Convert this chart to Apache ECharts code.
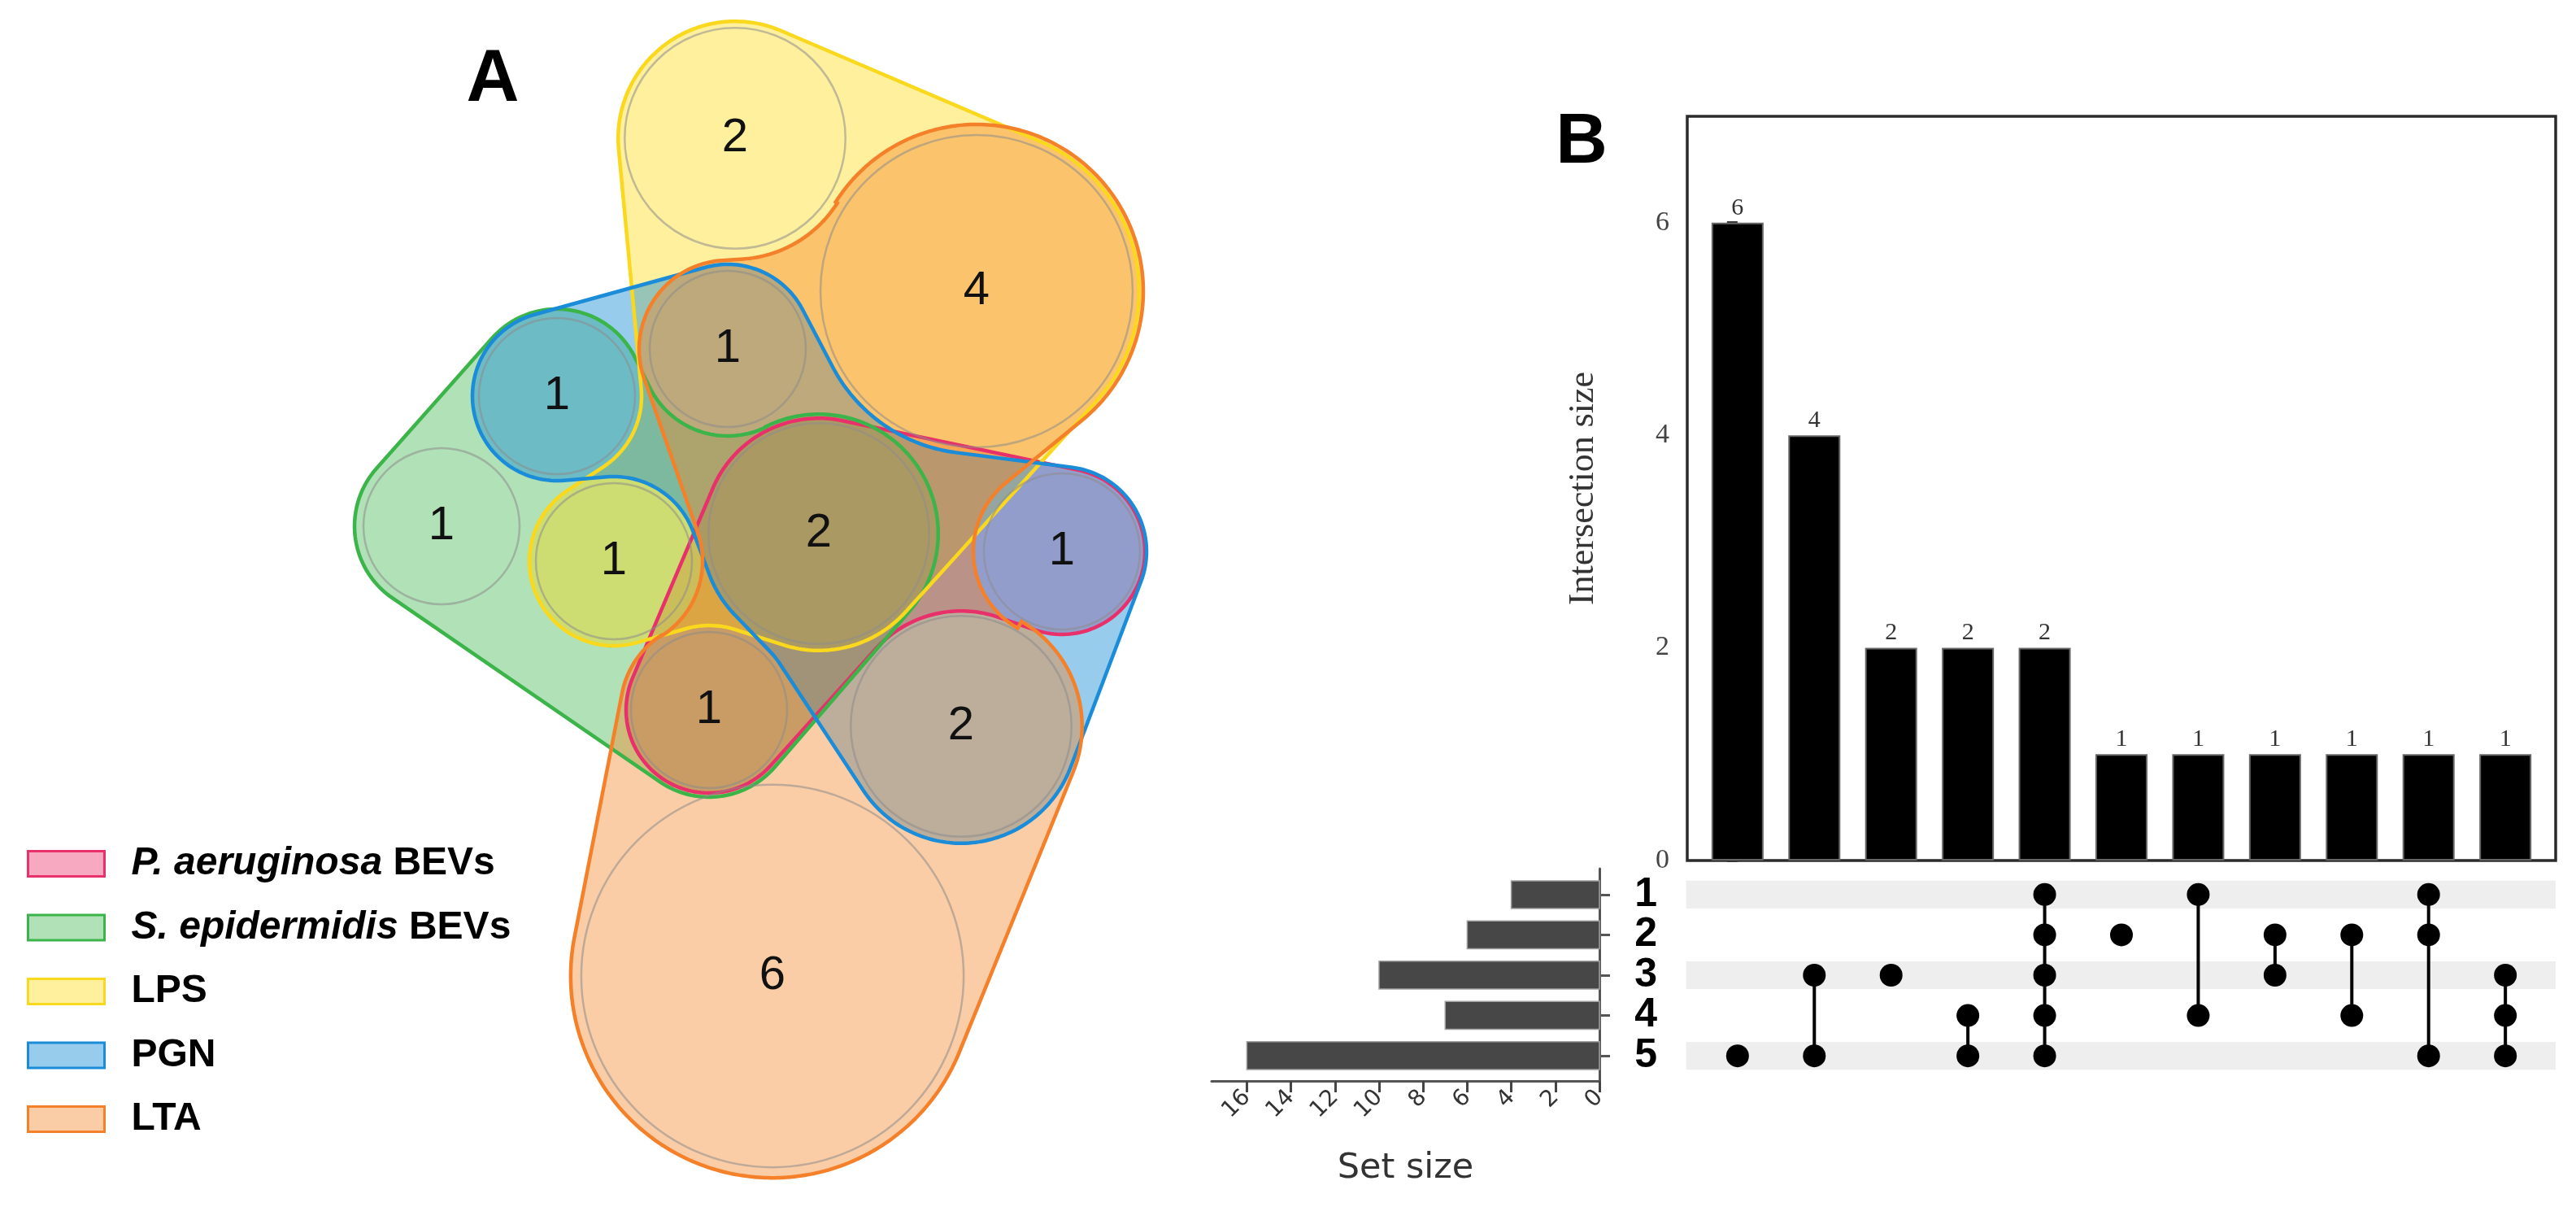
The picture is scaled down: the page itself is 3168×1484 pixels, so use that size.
<!DOCTYPE html>
<html>
<head>
<meta charset="utf-8">
<script src="https://cdn.jsdelivr.net/npm/echarts@6/dist/echarts.min.js"></script>
<style>
  html, body { margin: 0; padding: 0; background: #fff; }
  #chart { width: 3168px; height: 1484px; }
</style>
</head>
<body>
<div id="chart"></div>
<script>
// panel A - euler diagram
const setNames = ["P. aeruginosa BEVs", "S. epidermidis BEVs", "LPS", "PGN", "LTA"];
const regionCounts = [2, 4, 1, 1, 1, 1, 2, 1, 1, 2, 6];
const regionX = [904, 1201, 895, 685, 543, 755, 1007, 1306, 872, 1182, 950];
const regionY = [170, 358, 429, 487, 647, 690, 656, 678, 873, 893, 1200];
// regions each set outline runs round, clockwise; -1 = region left outside (outline bends in)
const setOutline = [
  [[6, 1], [7, 1], [9, -1], [8, 1]],
  [[4, 1], [3, 1], [2, -1], [6, 1], [8, 1]],
  [[0, 1], [1, 1], [6, 1], [8, -1], [5, 1], [3, -1]],
  [[3, 1], [2, 1], [1, -1], [7, 1], [9, 1], [8, -1], [6, 1], [5, -1]],
  [[10, 1], [8, 1], [5, -1], [2, 1], [0, -1], [1, 1], [7, -1], [9, 1]]
];

// panel B - upset plot
const setRows = ["1", "2", "3", "4", "5"];
const setSizes = [4, 6, 10, 7, 16];
const interSizes = [6, 4, 2, 2, 2, 1, 1, 1, 1, 1, 1];
const interMembers = [[5], [3, 5], [3], [4, 5], [1, 2, 3, 4, 5], [2], [1, 4], [2, 3], [2, 4], [1, 2, 5], [3, 4, 5]];

const strokeCol = ["#E8306A", "#3BB44A", "#FAD81E", "#1A8CD8", "#F5802A"];
const fillCol = [
  "rgba(232,40,100,0.40)",
  "rgba(61,181,74,0.40)",
  "rgba(255,215,0,0.38)",
  "rgba(27,143,216,0.45)",
  "rgba(245,130,32,0.40)"
];
const outlinePad = [6, 11, 8, 8, 13];
const unitR = 96; // radius of a region holding one item

function regionR(i) {
  return unitR * Math.sqrt(regionCounts[i]);
}

// rope round the circles of one set
function outlinePoints(k, api) {
  const pad = outlinePad[k];
  const items = setOutline[k].map(function (it) {
    const c = api.coord([regionX[it[0]], regionY[it[0]]]);
    const r = api.size([regionR(it[0]), 0])[0] + pad;
    return { x: c[0], y: c[1], r: r, rho: it[1] * r };
  });
  const n = items.length;
  const normals = [];
  for (let i = 0; i < n; i++) {
    const a = items[i], b = items[(i + 1) % n];
    const dx = b.x - a.x, dy = b.y - a.y, d = Math.hypot(dx, dy);
    const ux = dx / d, uy = dy / d;
    let kk = (a.rho - b.rho) / d;
    kk = Math.max(-1, Math.min(1, kk));
    const m = Math.sqrt(1 - kk * kk);
    normals.push([kk * ux + m * uy, kk * uy - m * ux]);
  }
  const pts = [];
  for (let i = 0; i < n; i++) {
    const c = items[i];
    const sg = c.rho > 0 ? 1 : -1;
    const nin = normals[(i - 1 + n) % n], nout = normals[i];
    const a0 = Math.atan2(sg * nin[1], sg * nin[0]);
    const a1 = Math.atan2(sg * nout[1], sg * nout[0]);
    let sweep = a1 - a0;
    if (sg > 0) {
      while (sweep < 0) sweep += 2 * Math.PI;
      if (sweep > 1.9 * Math.PI) sweep -= 2 * Math.PI;
    } else {
      while (sweep > 0) sweep -= 2 * Math.PI;
      if (sweep < -1.9 * Math.PI) sweep += 2 * Math.PI;
    }
    const steps = Math.max(2, Math.ceil(Math.abs(sweep) * c.r / 4));
    for (let j = 0; j <= steps; j++) {
      const t = a0 + sweep * j / steps;
      pts.push([c.x + c.r * Math.cos(t), c.y + c.r * Math.sin(t)]);
    }
  }
  return pts;
}

const serif = '"Liberation Serif", "Times New Roman", serif';
const sans = '"Liberation Sans", Arial, sans-serif';

const series = [];

// set fills
setNames.forEach(function (name, k) {
  series.push({
    type: "custom",
    name: name,
    xAxisIndex: 3,
    yAxisIndex: 3,
    silent: true,
    z: 1,
    itemStyle: { color: fillCol[k], borderColor: strokeCol[k] },
    data: [[regionX[setOutline[k][0][0]], regionY[setOutline[k][0][0]]]],
    renderItem: function (params, api) {
      return {
        type: "polygon",
        shape: { points: outlinePoints(k, api) },
        style: { fill: fillCol[k], stroke: null }
      };
    }
  });
});

// set outlines
series.push({
  type: "custom",
  xAxisIndex: 3,
  yAxisIndex: 3,
  silent: true,
  z: 2,
  data: setNames.map(function (n, k) { return [regionX[k], regionY[k]]; }),
  renderItem: function (params, api) {
    const k = params.dataIndex;
    return {
      type: "polygon",
      shape: { points: outlinePoints(k, api) },
      style: { fill: null, stroke: strokeCol[k], lineWidth: 4.5 }
    };
  }
});

// region circles + counts
series.push({
  type: "custom",
  xAxisIndex: 3,
  yAxisIndex: 3,
  silent: true,
  z: 3,
  data: regionX.map(function (x, i) { return [x, regionY[i], regionCounts[i]]; }),
  renderItem: function (params, api) {
    const c = api.coord([api.value(0), api.value(1)]);
    const r = api.size([unitR * Math.sqrt(api.value(2)), 0])[0];
    return {
      type: "group",
      children: [
        { type: "circle", shape: { cx: c[0], cy: c[1], r: r },
          style: { fill: null, stroke: "rgba(140,140,140,0.55)", lineWidth: 2.5 } },
        { type: "text", style: { x: c[0], y: c[1], text: String(api.value(2)),
          align: "center", verticalAlign: "middle", fontSize: 58, fontFamily: sans, fill: "#111" } }
      ]
    };
  }
});

// intersection bars
series.push({
  type: "bar",
  xAxisIndex: 0,
  yAxisIndex: 0,
  barWidth: 64,
  data: interSizes.map(function (v, i) { return [i, v]; }),
  itemStyle: { color: "#000", borderColor: "#666", borderWidth: 2 },
  label: {
    show: true, position: "top", distance: 3,
    fontFamily: serif, fontSize: 30, color: "#333",
    formatter: function (p) { return String(p.value[1]); }
  }
});

// matrix stripes
series.push({
  type: "custom",
  xAxisIndex: 1,
  yAxisIndex: 1,
  silent: true,
  z: 1,
  data: setRows.map(function (s, i) { return [0, i]; }).filter(function (d) { return d[1] % 2 === 0; }),
  renderItem: function (params, api) {
    const row = api.value(1);
    const p0 = api.coord([-0.67, row]);
    const p1 = api.coord([10.655, row]);
    const h = api.size([0, 1])[1] * 0.69;
    return { type: "rect", shape: { x: p0[0], y: p0[1] - h / 2, width: p1[0] - p0[0], height: h },
      style: { fill: "#EEEEEE" } };
  }
});

// matrix connectors
series.push({
  type: "custom",
  xAxisIndex: 1,
  yAxisIndex: 1,
  silent: true,
  z: 2,
  data: interMembers.map(function (m, i) {
    return [i, Math.min.apply(null, m) - 1, Math.max.apply(null, m) - 1];
  }),
  encode: { x: 0, y: [1, 2] },
  renderItem: function (params, api) {
    if (api.value(1) === api.value(2)) return null;
    const a = api.coord([api.value(0), api.value(1)]);
    const b = api.coord([api.value(0), api.value(2)]);
    return { type: "line", shape: { x1: a[0], y1: a[1], x2: b[0], y2: b[1] },
      style: { stroke: "#000", lineWidth: 4 } };
  }
});

// matrix dots
series.push({
  type: "scatter",
  xAxisIndex: 1,
  yAxisIndex: 1,
  z: 3,
  symbolSize: 28,
  itemStyle: { color: "#000", opacity: 1 },
  data: interMembers.reduce(function (acc, m, i) {
    return acc.concat(m.map(function (s) { return [i, s - 1]; }));
  }, [])
});

// set size bars
series.push({
  type: "custom",
  xAxisIndex: 2,
  yAxisIndex: 2,
  data: setSizes.map(function (v, i) { return [v, i + 1]; }),
  renderItem: function (params, api) {
    const p0 = api.coord([0, api.value(1)]);
    const p1 = api.coord([api.value(0), api.value(1)]);
    const h = api.size([0, 0.69])[1];
    return { type: "rect", shape: { x: p1[0], y: p0[1] - h / 2, width: p0[0] - p1[0], height: h },
      style: { fill: "#474747", stroke: "#a0a0a0", lineWidth: 1.5 } };
  }
});

const option = {
  animation: false,
  backgroundColor: "#fff",
  grid: [
    { left: 2075, top: 143, width: 1068, height: 915, show: true, borderColor: "#2b2b2b", borderWidth: 3.5, backgroundColor: "transparent" },
    { left: 2075, top: 1075, width: 1068, height: 248 },
    { left: 1490, top: 1068, width: 477, height: 261 },
    { left: 0, top: 0, width: 1500, height: 1484 }
  ],
  xAxis: [
    { gridIndex: 0, type: "value", min: -0.655, max: 10.655, show: false },
    { gridIndex: 1, type: "value", min: -0.655, max: 10.655, show: false },
    {
      gridIndex: 2, type: "value", inverse: true, min: 0, max: 17.6, interval: 2,
      axisLine: { lineStyle: { color: "#555", width: 3 } },
      axisTick: { length: 14, lineStyle: { color: "#444", width: 3 } },
      axisLabel: { rotate: 45, margin: 16, fontFamily: '"DejaVu Sans", sans-serif', fontSize: 28, color: "#333",
        showMinLabel: true, showMaxLabel: false },
      splitLine: { show: false },
      name: "Set size", nameLocation: "middle", nameGap: 86,
      nameTextStyle: { fontFamily: '"DejaVu Sans", sans-serif', fontSize: 43, color: "#333" }
    },
    { gridIndex: 3, type: "value", min: 0, max: 1500, show: false }
  ],
  yAxis: [
    {
      gridIndex: 0, type: "value", min: 0, max: 7, interval: 2,
      axisLine: { show: false },
      axisTick: { show: true, length: 13, lineStyle: { color: "#333", width: 3 } },
      axisLabel: { margin: 22, fontFamily: serif, fontSize: 34, color: "#444", showMaxLabel: false },
      splitLine: { show: false },
      name: "Intersection size", nameLocation: "middle", nameGap: 106,
      nameTextStyle: { fontFamily: serif, fontSize: 44, color: "#333" }
    },
    {
      gridIndex: 1, type: "category", data: setRows, inverse: true,
      axisLine: { show: false }, axisTick: { show: false },
      axisLabel: { interval: 0, margin: 37, fontFamily: '"Liberation Sans Narrow", "Liberation Sans", Arial, sans-serif',
        fontWeight: "bold", fontSize: 50, color: "#000" }
    },
    {
      gridIndex: 2, type: "value", inverse: true, min: 0.354, max: 5.63, position: "right",
      axisLine: { show: true, lineStyle: { color: "#555", width: 3 } },
      axisTick: { show: true, length: 13, customValues: [1, 2, 3, 4, 5], lineStyle: { color: "#555", width: 3 } },
      axisLabel: { show: false },
      splitLine: { show: false }
    },
    { gridIndex: 3, type: "value", min: 0, max: 1484, inverse: true, show: false }
  ],
  legend: {
    orient: "vertical",
    left: 33,
    top: 1038,
    padding: 0,
    itemWidth: 94,
    itemHeight: 31,
    itemGap: 30.5,
    icon: "rect",
    selectedMode: false,
    data: setNames.map(function (n, k) {
      return { name: n, itemStyle: { color: fillCol[k], borderColor: strokeCol[k], borderWidth: 3 } };
    }),
    formatter: function (name) {
      const p = name.indexOf(" BEVs");
      return p > 0 ? "{i|" + name.slice(0, p) + "} BEVs" : name;
    },
    textStyle: {
      fontFamily: sans, fontSize: 48, fontWeight: "bold", color: "#000", lineHeight: 48,
      padding: [0, 0, 0, 28],
      rich: { i: { fontFamily: sans, fontSize: 48, fontWeight: "bold", fontStyle: "italic", color: "#000" } }
    }
  },
  graphic: [
    { type: "text", x: 606, y: 99, style: { text: "A", font: 'bold 90px "Liberation Sans", Arial', align: "center", verticalAlign: "middle", fill: "#000" } },
    { type: "text", x: 1945, y: 176, style: { text: "B", font: 'bold 88px "Liberation Sans", Arial', align: "center", verticalAlign: "middle", fill: "#000" } }
  ],
  series: series
};

const chart = echarts.init(document.getElementById("chart"));
chart.setOption(option);
</script>
</body>
</html>
